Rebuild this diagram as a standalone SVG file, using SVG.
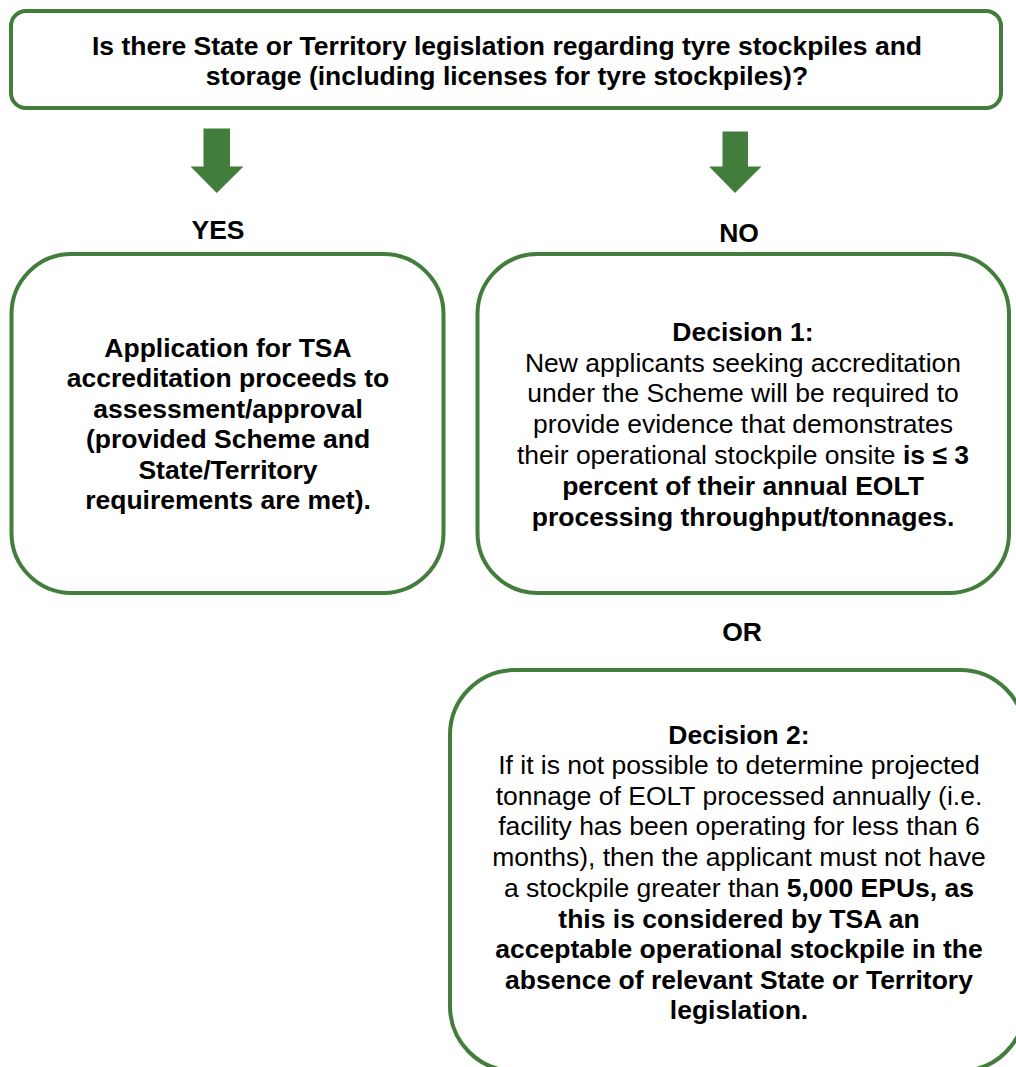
<svg xmlns="http://www.w3.org/2000/svg" width="1016" height="1067" viewBox="0 0 1016 1067">
<style>
.box{fill:#ffffff;stroke:#437d3c;stroke-width:4}
.arrow{fill:#437d3c}
text{font-family:"Liberation Sans",Arial,sans-serif;font-size:26.5px;fill:#000000;text-anchor:middle}
.b{font-weight:bold}
</style>
<rect width="1016" height="1067" fill="#ffffff"/>
<g id="question">
<rect class="box" x="11" y="11" width="990" height="97" rx="15"/>
<text class="b" x="507" y="55">Is there State or Territory legislation regarding tyre stockpiles and</text>
<text class="b" x="507" y="85">storage (including licenses for tyre stockpiles)?</text>
</g>
<g id="connectors">
<polygon class="arrow" points="203.5,128.5 230,128.5 230,166.5 243.5,166.5 216.8,193 190.5,166.5 203.5,166.5"/>
<polygon class="arrow" points="722.5,131.5 748,131.5 748,166.5 761.5,166.5 735,193 709,166.5 722.5,166.5"/>
</g>
<g id="yes-label"><text class="b" x="218" y="239">YES</text></g>
<g id="no-label"><text class="b" x="739" y="242">NO</text></g>
<g id="yes-box">
<rect class="box" x="11.5" y="254" width="432" height="339" rx="60"/>
<text class="b" x="228" y="357">Application for TSA</text>
<text class="b" x="228" y="387">accreditation proceeds to</text>
<text class="b" x="228" y="418">assessment/approval</text>
<text class="b" x="228" y="448">(provided Scheme and</text>
<text class="b" x="228" y="479">State/Territory</text>
<text class="b" x="228" y="509">requirements are met).</text>
</g>
<g id="decision1">
<rect class="box" x="477.5" y="254" width="531.5" height="339" rx="60"/>
<text class="b" x="743" y="341">Decision 1:</text>
<text x="743" y="372">New applicants seeking accreditation</text>
<text x="743" y="402">under the Scheme will be required to</text>
<text x="743" y="433">provide evidence that demonstrates</text>
<text x="743" y="464">their operational stockpile onsite <tspan class="b">is ≤ 3</tspan></text>
<text class="b" x="743" y="495">percent of their annual EOLT</text>
<text class="b" x="743" y="526">processing throughput/tonnages.</text>
</g>
<g id="or-label"><text class="b" x="742" y="641">OR</text></g>
<g id="decision2">
<rect class="box" x="450" y="670" width="575" height="401" rx="65"/>
<text class="b" x="739" y="744">Decision 2:</text>
<text x="739" y="774">If it is not possible to determine projected</text>
<text x="739" y="805">tonnage of EOLT processed annually (i.e.</text>
<text x="739" y="835">facility has been operating for less than 6</text>
<text x="739" y="866">months), then the applicant must not have</text>
<text x="739" y="897">a stockpile greater than <tspan class="b">5,000 EPUs, as</tspan></text>
<text class="b" x="739" y="928">this is considered by TSA an</text>
<text class="b" x="739" y="958">acceptable operational stockpile in the</text>
<text class="b" x="739" y="989">absence of relevant State or Territory</text>
<text class="b" x="739" y="1019">legislation.</text>
</g>
</svg>
